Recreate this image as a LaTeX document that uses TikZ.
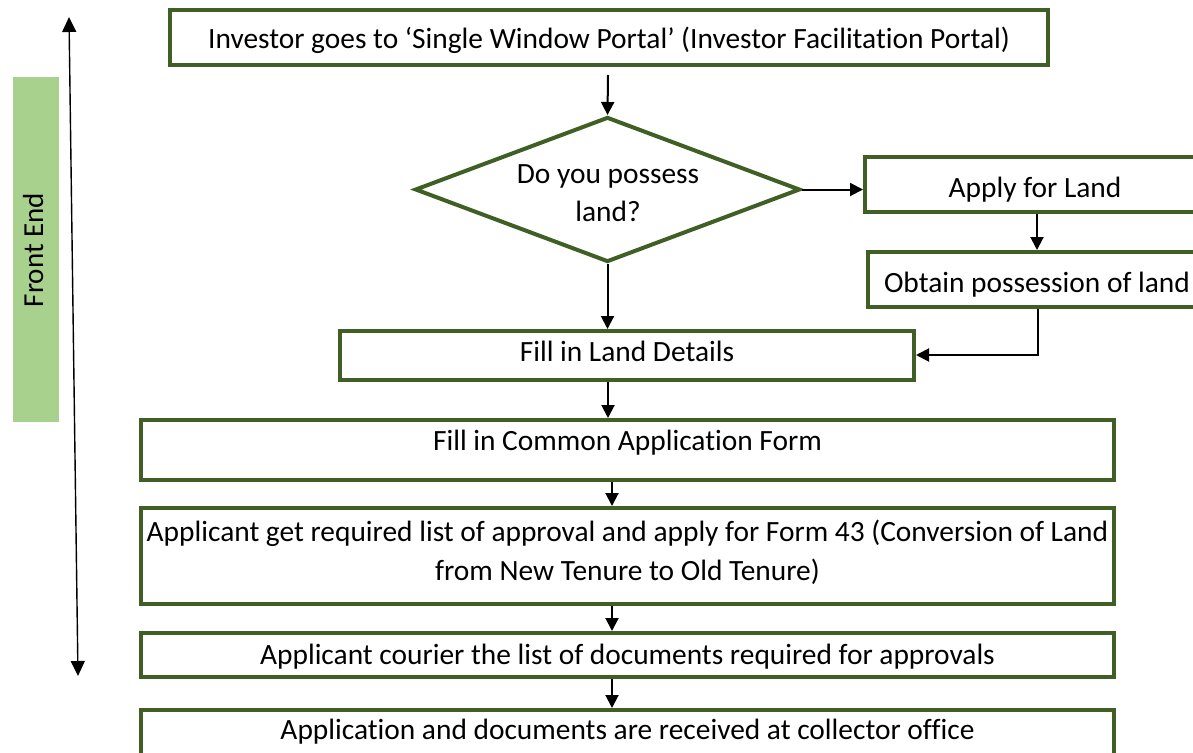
\documentclass[tikz,border=0pt]{standalone}
\usepackage{fontspec}
\setmainfont{Carlito}[RawFeature={-liga;-clig;-calt;-dlig}]
\usetikzlibrary{shapes.geometric,arrows.meta}
\definecolor{boxgreen}{RGB}{63,95,37}
\definecolor{barbg}{RGB}{169,209,142}
\begin{document}
\begin{tikzpicture}[x=1pt,y=-1pt,
  box/.style={draw=boxgreen, line width=4pt, inner sep=0pt, fill=white},
  txt/.style={font=\fontsize{29.4}{36}\selectfont, anchor=base, inner sep=0pt},
  flow/.style={line width=2pt, -{Triangle[length=13pt,width=13pt]}}]
\useasboundingbox (0,0) rectangle (1193,752);
\clip (0,0) rectangle (1193,752);
% Front End bar
\node[fill=barbg, minimum width=46pt, minimum height=345pt, inner sep=0pt] (bar) at (36,249.5) {};
\node[txt, rotate=90, font=\fontsize{29}{36}\selectfont] (fe) at (43,250) {Front End};
\coordinate (fa) at (69,17);
\coordinate (fb) at (78,676);
\draw[line width=1.4pt, {Triangle[length=15pt,width=14pt]}-{Triangle[length=15pt,width=14pt]}] (fa) -- (fb);
% boxes
\node[box, minimum width=878pt, minimum height=55pt] (top) at (609,37.5) {};
\node[txt] (ttop) at (609,48.3) {Investor goes to ‘Single Window Portal’ (Investor Facilitation Portal)};
\node[draw=boxgreen, line width=4pt, diamond, inner sep=0pt, minimum width=385pt, minimum height=145pt] (q) at (607.5,189.5) {};
\node[txt] (tq1) at (608,183.3) {Do you possess};
\node[txt] (tq2) at (608,221.7) {land?};
\node[box, minimum width=345pt, minimum height=55pt] (apply) at (1037.5,184.5) {};
\node[txt] (tapply) at (1035,197) {Apply for Land};
\node[box, minimum width=342pt, minimum height=55pt] (obtain) at (1039,279.5) {};
\node[txt] (tobtain) at (1037,292) {Obtain possession of land};
\node[box, minimum width=574pt, minimum height=49pt] (land) at (627,355.5) {};
\node[txt] (tland) at (627,361.7) {Fill in Land Details};
\node[box, minimum width=973pt, minimum height=60pt] (caf) at (627.5,450) {};
\node[txt] (tcaf) at (627.5,450) {Fill in Common Application Form};
\node[box, minimum width=973pt, minimum height=96pt] (list) at (627.5,556) {};
\node[txt] (tlist1) at (627.5,541.7) {Applicant get required list of approval and apply for Form 43 (Conversion of Land};
\node[txt] (tlist2) at (627.5,580) {from New Tenure to Old Tenure)};
\node[box, minimum width=973pt, minimum height=44pt] (courier) at (627.5,655) {};
\node[txt] (tcourier) at (627.5,664) {Applicant courier the list of documents required for approvals};
\node[box, minimum width=973pt, minimum height=60pt] (recv) at (627.5,740) {};
\node[txt] (trecv) at (627.5,739) {Application and documents are received at collector office};
% connectors
\draw[flow] (608,75) -- (q.north);
\draw[flow] (q.east) -- (apply.west |- q.east);
\draw[flow] (apply.south -| 1037,0) -- (obtain.north -| 1037,0);
\draw[flow] (obtain.south -| 1038,0) |- (land.east |- 0,355);
\draw[flow] (q.south) -- (land.north -| q.south);
\draw[flow] (land.south -| 608,0) -- (caf.north -| 608,0);
\draw[flow] (caf.south -| 612,0) -- (list.north -| 612,0);
\draw[flow] (list.south -| 612,0) -- (courier.north -| 612,0);
\draw[flow] (courier.south -| 612,0) -- (recv.north -| 612,0);
\end{tikzpicture}
\end{document}
